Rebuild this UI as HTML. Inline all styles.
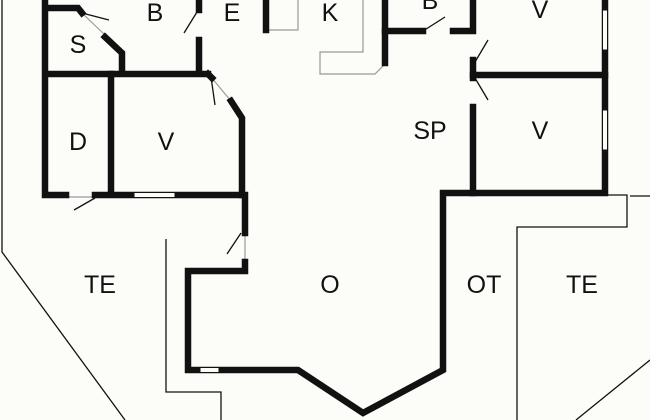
<!DOCTYPE html>
<html><head><style>
html,body{margin:0;padding:0;background:#fcfdf8;}
svg{display:block;}
text{font-family:"Liberation Sans",sans-serif;font-size:25px;fill:#111;text-anchor:middle;}
</style></head><body>
<svg width="650" height="420" viewBox="0 0 650 420" xmlns="http://www.w3.org/2000/svg">
<rect width="650" height="420" fill="#fcfdf8"/>
<g fill="none" stroke="#111" stroke-width="1.3">
<polyline points="2,0 2,252 125,420"/>
<polyline points="166,239 166,392 221,392 221,420"/>
<polyline points="608,195 627,195 627,227 517,227 517,420"/>
<polyline points="630,196 650,196"/>
<polyline points="650,360 576,420"/>
<line x1="82" y1="13" x2="109" y2="20"/>
<line x1="197" y1="12" x2="184" y2="33"/>
<line x1="211" y1="77" x2="215" y2="105"/>
<line x1="95" y1="198" x2="74" y2="210"/>
<line x1="241" y1="233" x2="227" y2="254"/>
<line x1="423" y1="31" x2="445" y2="17"/>
<line x1="475" y1="62" x2="488" y2="40"/>
<line x1="475" y1="78" x2="488" y2="100"/>
</g>
<g fill="none" stroke="#999" stroke-width="1.2">
<polyline points="363,0 363,52 320,52 320,74 375,74 385,64"/>
<polyline points="268,0 268,30 298,30 298,0"/>
<line x1="82" y1="13" x2="105" y2="35"/>
<line x1="211" y1="77" x2="231" y2="101"/>
<line x1="66" y1="197" x2="95" y2="197"/>
<line x1="245" y1="233" x2="245" y2="262"/>
</g>
<g fill="none" stroke="#111" stroke-width="6.5" stroke-linejoin="miter" stroke-linecap="square">
<polyline points="45,0 45,195 66,195"/>
<polyline points="48,8 78,8 82,13"/>
<polyline points="105,37 122,53 122,73"/>
<line x1="48" y1="74" x2="208" y2="74"/>
<polyline points="199,0 199,10"/>
<polyline points="199,40 199,73"/>
<polyline points="208,74 212,78"/>
<polyline points="231,101 242,118 242,195"/>
<line x1="111" y1="74" x2="111" y2="193"/>
<polyline points="95,195 245,195 245,233"/>
<polyline points="245,262 245,271 188,271 188,370 298,370 363,413 443,370 443,193 605,193 605,0"/>
<line x1="266" y1="0" x2="266" y2="30"/>
<polyline points="385,0 385,63"/>
<polyline points="385,31 423,31"/>
<polyline points="453,31 473,31 473,0"/>
<line x1="473" y1="60" x2="473" y2="78"/>
<line x1="473" y1="75" x2="605" y2="75"/>
<line x1="473" y1="107" x2="473" y2="193"/>
</g>
<g fill="#fcfdf8" stroke="#111" stroke-width="1">
<rect x="134" y="192.5" width="41" height="5"/>
<rect x="200" y="367.5" width="19" height="5"/>
<rect x="602.5" y="10" width="5" height="40"/>
<rect x="602.5" y="110" width="5" height="40"/>
</g>
<text x="155" y="21">B</text>
<text x="232" y="21">E</text>
<text x="330" y="21">K</text>
<text x="430" y="9">B</text>
<text x="540" y="18">V</text>
<text x="78" y="53">S</text>
<text x="78" y="150">D</text>
<text x="166" y="150">V</text>
<text x="430" y="139">SP</text>
<text x="540" y="139">V</text>
<text x="100" y="293">TE</text>
<text x="330" y="293">O</text>
<text x="484" y="293">OT</text>
<text x="582" y="293">TE</text>
</svg>
</body></html>
